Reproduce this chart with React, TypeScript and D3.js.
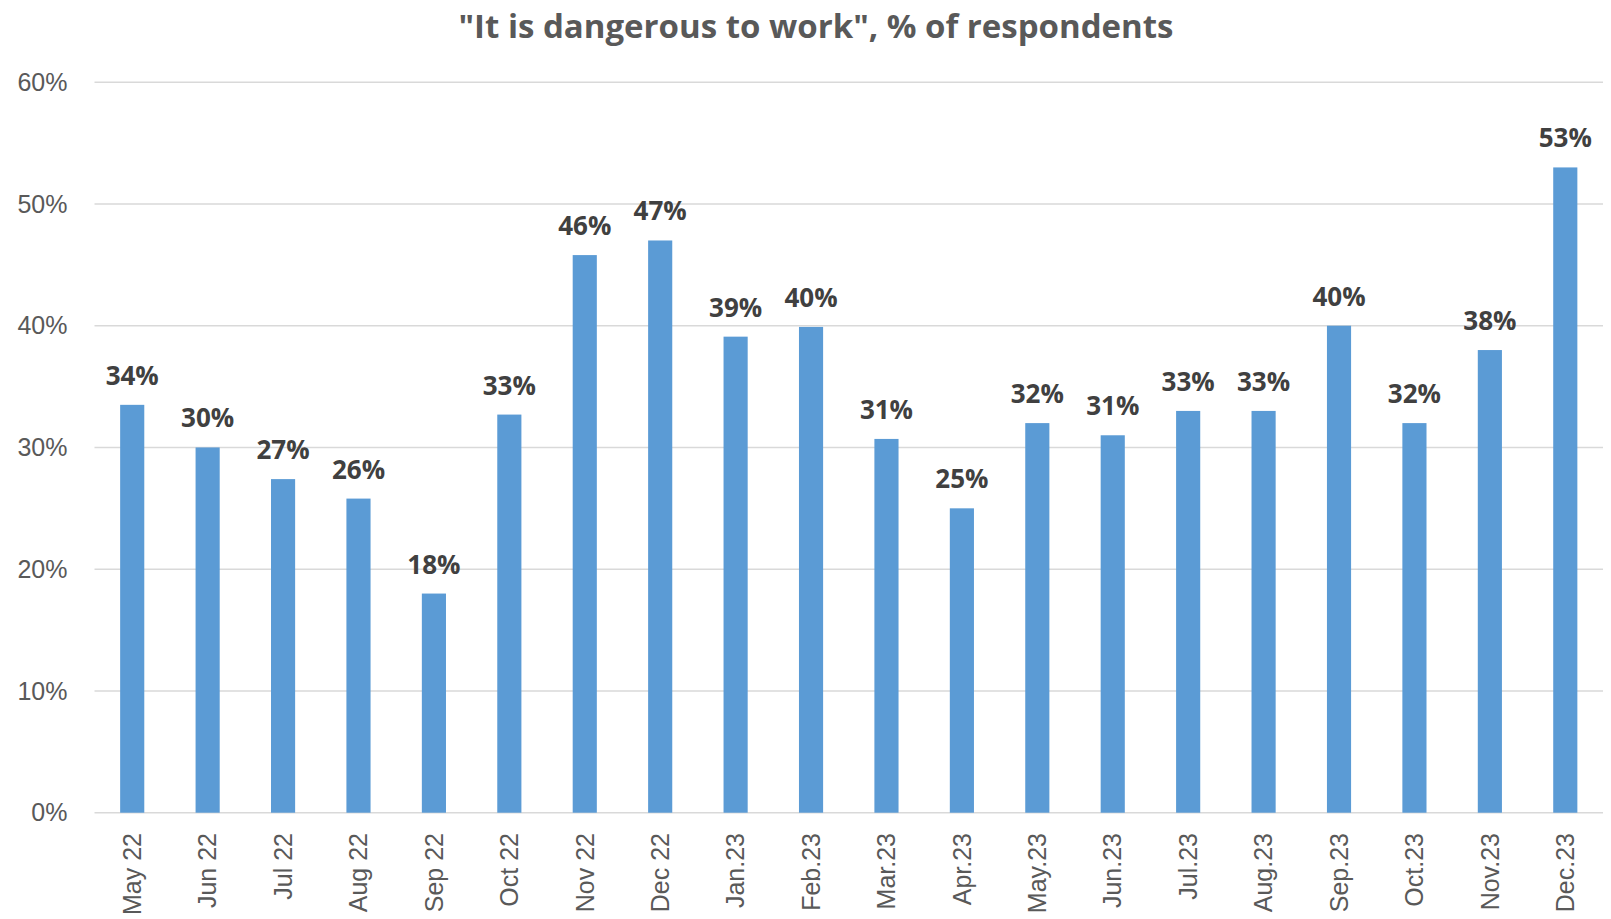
import React from "react";
import * as d3 from "d3";

const categories = [
  "May 22", "Jun 22", "Jul 22", "Aug 22", "Sep 22", "Oct 22", "Nov 22", "Dec 22",
  "Jan.23", "Feb.23", "Mar.23", "Apr.23", "May.23", "Jun.23", "Jul.23", "Aug.23",
  "Sep.23", "Oct.23", "Nov.23", "Dec.23",
];
const values = [
  33.5, 30.0, 27.4, 25.8, 18.0, 32.7, 45.8, 47.0,
  39.1, 39.9, 30.7, 25.0, 32.0, 31.0, 33.0, 33.0,
  40.0, 32.0, 38.0, 53.0,
];
const yTicks = [0, 10, 20, 30, 40, 50, 60];
const title = "\"It is dangerous to work\", % of respondents";

const W = 1611;
const H = 919;

export default function App() {
  const x = d3
    .scaleBand<string>()
    .domain(categories)
    .range([94.5, 1603])
    .paddingInner(0.68)
    .paddingOuter(0.34);
  const y = d3.scaleLinear().domain([0, 60]).range([812.7, 82.2]);
  const pct = (v: number) => `${Math.round(v)}%`;

  return (
    <svg
      width={W}
      height={H}
      style={{ position: "absolute", left: 0, top: 0, background: "#fff" }}
    >
      <text
        x={816}
        y={38}
        textAnchor="middle"
        fontFamily="'Open Sans', sans-serif"
        fontWeight={700}
        fontSize={33}
        fill="#595959"
      >
        {title}
      </text>
      {yTicks.map((t) => (
        <g key={t}>
          <line
            x1={94.5}
            x2={1603}
            y1={y(t)}
            y2={y(t)}
            stroke="#d9d9d9"
            strokeWidth={1.5}
          />
          <text
            x={67.5}
            y={y(t)}
            dy="0.35em"
            textAnchor="end"
            fontFamily="'Liberation Sans', Arial, sans-serif"
            fontSize={25}
            fill="#595959"
          >
            {`${t}%`}
          </text>
        </g>
      ))}
      {categories.map((c, i) => {
        const bx = x(c)!;
        const cx = bx + x.bandwidth() / 2;
        const v = values[i];
        return (
          <g key={c}>
            <rect
              x={bx}
              y={y(v)}
              width={x.bandwidth()}
              height={y(0) - y(v)}
              fill="#5b9bd5"
            />
            <text
              x={cx}
              y={y(v) - 20}
              textAnchor="middle"
              fontFamily="'Open Sans', sans-serif"
              fontWeight={700}
              fontSize={26}
              fill="#404040"
            >
              {pct(v)}
            </text>
            <text
              transform={`translate(${cx},833) rotate(-90)`}
              dy="0.35em"
              textAnchor="end"
              fontFamily="'Liberation Sans', Arial, sans-serif"
              fontSize={25}
              fill="#595959"
            >
              {c}
            </text>
          </g>
        );
      })}
    </svg>
  );
}
